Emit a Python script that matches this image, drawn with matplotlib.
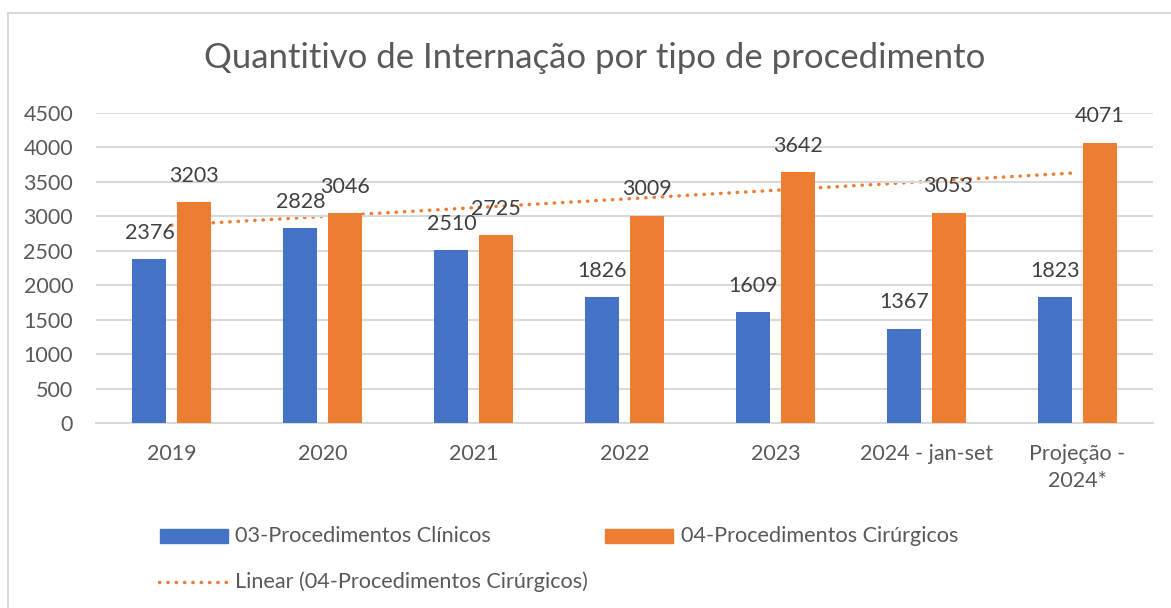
import matplotlib
matplotlib.use("Agg")
import matplotlib.pyplot as plt
import numpy as np
from matplotlib.patches import Rectangle
from matplotlib.lines import Line2D

categories = ["2019", "2020", "2021", "2022", "2023", "2024 - jan-set", "Projeção -\n2024*"]
clinicos = [2376, 2828, 2510, 1826, 1609, 1367, 1823]
cirurgicos = [3203, 3046, 2725, 3009, 3642, 3053, 4071]
yticks = [0, 500, 1000, 1500, 2000, 2500, 3000, 3500, 4000, 4500]

title = "Quantitivo de Internação por tipo de procedimento"
name_clin = "03-Procedimentos Clínicos"
name_cir = "04-Procedimentos Cirúrgicos"
name_trend = "Linear (04-Procedimentos Cirúrgicos)"

BLUE = "#4472C4"
ORANGE = "#ED7D31"
TXT = "#595959"
LBL = "#404040"
GRID = "#D9D9D9"
DOTS = (0, (0.1, 2.3))

plt.rcParams['font.family'] = ['Lato', 'DejaVu Sans']

W, H = 1171, 608
fig = plt.figure(figsize=(W / 100, H / 100), dpi=100)

def fx(px):
    return px / W

def fy(py):
    return 1 - py / H

# chart border
fig.patches.append(Rectangle((fx(7.5), fy(700)), fx(1300), fy(13.5) - fy(700),
                             transform=fig.transFigure, fill=False,
                             edgecolor=GRID, linewidth=1.5))

ax = fig.add_axes([fx(96), fy(423), fx(1153) - fx(96), fy(113) - fy(423)])

x = np.arange(len(categories))
bw = 0.225
off = 0.146
ax.bar(x - off, clinicos, bw, color=BLUE, zorder=2)
ax.bar(x + off, cirurgicos, bw, color=ORANGE, zorder=2)

# linear trendline (Excel style: fitted on category index)
coef = np.polyfit(x, cirurgicos, 1)
tx = np.array([x[0], x[-1] - 0.03])
ty = np.polyval(coef, np.array([x[0], x[-1]]))
ax.plot(tx, ty, color=ORANGE, linewidth=2.5, linestyle=DOTS,
        dash_capstyle='round', zorder=1.5)

for xi, v in zip(x, clinicos):
    ax.annotate(str(v), (xi - off, v), xytext=(0, 19), textcoords='offset points',
                ha='center', va='center', fontsize=15.5, color=LBL, zorder=4)
for xi, v in zip(x, cirurgicos):
    ax.annotate(str(v), (xi + off, v), xytext=(0, 19), textcoords='offset points',
                ha='center', va='center', fontsize=15.5, color=LBL, zorder=4)

ax.set_xlim(-0.5, len(categories) - 0.5)
ax.set_ylim(0, 4500)
ax.set_yticks(yticks)
ax.set_yticklabels([str(t) for t in yticks])
ax.set_xticks(x)
ax.set_xticklabels(categories, linespacing=1.45)
ax.tick_params(axis='both', length=0, labelsize=15.5, labelcolor=TXT)
ax.tick_params(axis='x', pad=15)
ax.tick_params(axis='y', pad=16.5)
ax.grid(axis='y', color=GRID, linewidth=1.5, zorder=0)
for s in ['top', 'right', 'left']:
    ax.spines[s].set_visible(False)
ax.spines['bottom'].set_color(GRID)
ax.spines['bottom'].set_linewidth(1.5)
ax.spines['bottom'].set_zorder(1)

fig.text(fx(595), fy(68), title, ha='center', va='baseline', fontsize=25, color=TXT)

# legend (drawn by hand to follow the Excel layout)
LFS = 15.6
fig.patches.append(Rectangle((fx(160), fy(543)), fx(228) - fx(160), fy(529) - fy(543),
                             transform=fig.transFigure, color=BLUE))
fig.text(fx(235), fy(536), name_clin, ha='left', va='center', fontsize=LFS, color=TXT)
fig.patches.append(Rectangle((fx(605), fy(543)), fx(673) - fx(605), fy(529) - fy(543),
                             transform=fig.transFigure, color=ORANGE))
fig.text(fx(681), fy(536), name_cir, ha='left', va='center', fontsize=LFS, color=TXT)
fig.lines.append(Line2D([fx(159), fx(228)], [fy(582), fy(582)], transform=fig.transFigure,
                        color=ORANGE, linewidth=2.5, linestyle=DOTS, dash_capstyle='round'))
fig.text(fx(235), fy(582), name_trend, ha='left', va='center', fontsize=LFS, color=TXT)

fig.savefig("out.png", dpi=100)
